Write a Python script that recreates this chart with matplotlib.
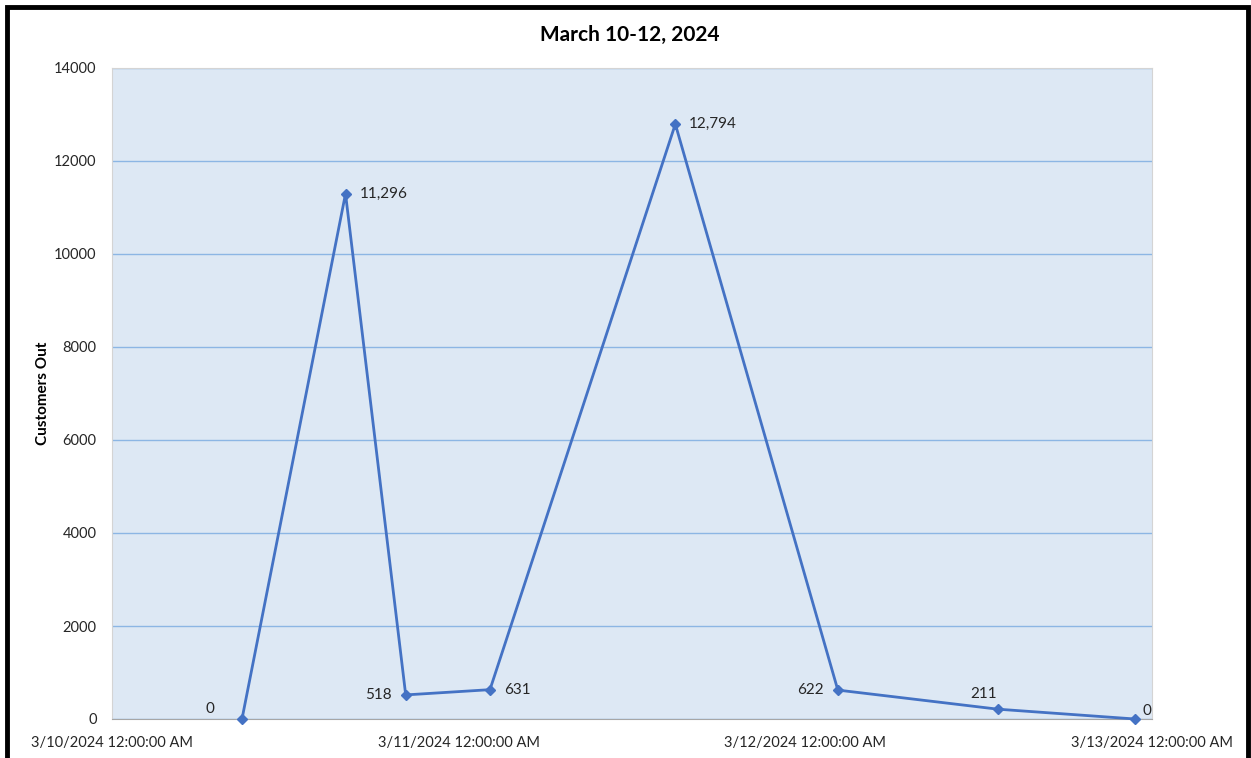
import numpy as np
import matplotlib
matplotlib.use('Agg')
import matplotlib.pyplot as plt
import matplotlib.dates as mdates
from matplotlib.patches import Rectangle
from datetime import datetime

# readings (times)
times = [datetime(2024, 3, 10, 9, 0), datetime(2024, 3, 10, 16, 10),
         datetime(2024, 3, 10, 20, 20), datetime(2024, 3, 11, 2, 10),
         datetime(2024, 3, 11, 15, 0), datetime(2024, 3, 12, 2, 15),
         datetime(2024, 3, 12, 13, 20), datetime(2024, 3, 12, 22, 50)]
customers_out = [0, 11296, 518, 631, 12794, 622, 211, 0]
point_labels = ['0', '11,296', '518', '631', '12,794', '622', '211', '0']
label_side = ['upleft', 'right', 'left', 'right', 'right', 'left', 'up', 'upright']

tick_days = [datetime(2024, 3, 10), datetime(2024, 3, 11),
             datetime(2024, 3, 12), datetime(2024, 3, 13)]
tick_labels = [d.strftime('%-m/%-d/%Y') + ' 12:00:00 AM' for d in tick_days]

plt.rcParams['font.family'] = ['Lato', 'DejaVu Sans']

fig = plt.figure(figsize=(12.51, 7.58), dpi=100)
ax = fig.add_axes([112 / 1251, 1 - 719 / 758, (1152 - 112) / 1251, (719 - 68) / 758])
ax.set_facecolor('#dde8f4')

line_col = '#4472c4'
ax.plot(times, customers_out, color=line_col, lw=2, marker='D', ms=5.5, zorder=3, clip_on=False)

offsets = {'upleft': (-20, 2, 'right', 'bottom'), 'right': (10, 0, 'left', 'center'),
           'left': (-10, 0, 'right', 'center'), 'up': (-10, 6, 'center', 'bottom'),
           'upright': (5, 1, 'left', 'bottom')}
for t, v, s, side in zip(times, customers_out, point_labels, label_side):
    dx, dy, ha, va = offsets[side]
    ax.annotate(s, (mdates.date2num(t), v), xytext=(dx, dy), textcoords='offset points',
                ha=ha, va=va, fontsize=11, color='#262626', zorder=4)

ax.set_xlim(mdates.date2num(tick_days[0]), mdates.date2num(tick_days[-1]))
ax.set_ylim(0, 14000)
ax.set_yticks(np.arange(0, 14001, 2000))
ax.set_xticks([mdates.date2num(d) for d in tick_days])
ax.set_xticklabels(tick_labels)
ax.tick_params(length=0, labelsize=10.5, labelcolor='#262626')
ax.tick_params(axis='x', pad=12)
ax.tick_params(axis='y', pad=11)

ax.yaxis.grid(True, color='#8cb6e4', lw=1)
ax.set_axisbelow(True)
for side in ['top', 'right', 'left']:
    ax.spines[side].set_color('#d4d4d4')
ax.spines['bottom'].set_color('#a6a6a6')

ax.set_ylabel('Customers Out', fontsize=11, fontweight='bold', labelpad=3)
fig.text(630 / 1251, 1 - 35 / 758, 'March 10-12, 2024', ha='center', va='center',
         fontsize=15, fontweight='bold')

# black frame round the whole chart
fig.patches.append(Rectangle((7 / 1251, -0.05), 1241 / 1251, 1.05 - 7 / 758,
                             transform=fig.transFigure, fill=False, ec='black', lw=3.5))

fig.savefig('out.png', dpi=100)
